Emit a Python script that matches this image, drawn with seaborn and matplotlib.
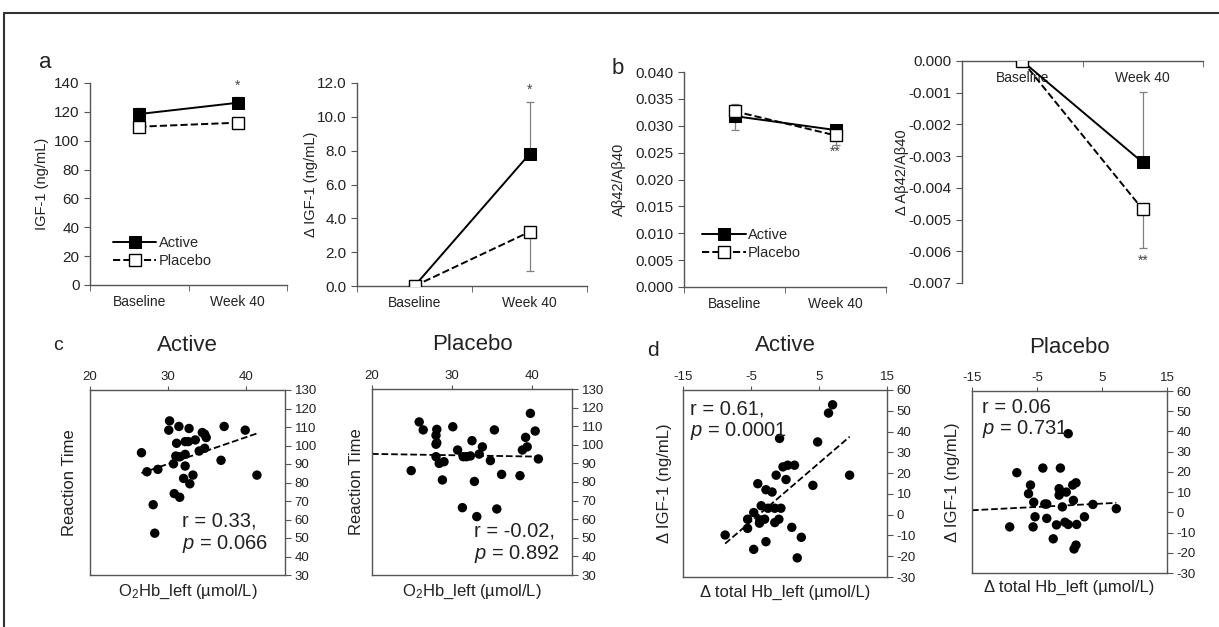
import numpy as np
import pandas as pd
import matplotlib
matplotlib.use("Agg")
import matplotlib.pyplot as plt
from matplotlib.lines import Line2D
import seaborn as sns

# ---- data ----
timepoints = ["Baseline", "Week 40"]

igf_active = [118.5, 126.3]
igf_active_err = [3.9, 4.2]          # upper bars
igf_placebo = [109.7, 112.5]

d_igf_active = [0.0, 7.8]
d_igf_active_err = [0.0, 3.1]        # upper
d_igf_placebo = [0.0, 3.2]
d_igf_placebo_err = [0.0, 2.3]       # lower

ab_active = [0.0318, 0.0292]
ab_active_err_lo = [0.0025, 0.0]
ab_active_err_hi = [0.0, 0.0003]
ab_placebo = [0.0327, 0.0282]
ab_placebo_err_lo = [0.0, 0.0018]
ab_placebo_err_hi = [0.0013, 0.0]

d_ab_active = [0.0, -0.0032]
d_ab_active_err = [0.0, 0.00223]     # upper
d_ab_placebo = [0.0, -0.00468]
d_ab_placebo_err = [0.0, 0.00122]    # lower

# c: O2Hb_left vs reaction time
c_active_x = [26.6, 27.3, 28.7, 28.1, 28.3, 30.2, 30.1, 31.4, 32.7, 31.1, 32.2, 32.6, 33.5,
              34.4, 34.7, 34.9, 31.0, 31.5, 32.2, 30.7, 32.2, 34.0, 34.7, 32.0, 33.2, 32.8,
              30.8, 31.5, 36.8, 37.2, 39.9, 41.4]
c_active_y = [96.1, 85.8, 87.1, 68.0, 52.6, 113.3, 108.3, 110.3, 109.2, 101.2, 102.1, 102.1, 103.0,
              107.0, 106.1, 104.3, 94.3, 93.9, 95.2, 90.1, 88.9, 97.0, 98.5, 82.2, 84.0, 79.3,
              74.0, 72.0, 92.0, 110.3, 108.3, 84.0]
c_placebo_x = [24.9, 25.9, 26.4, 28.1, 28.0, 28.1, 28.0, 28.0, 28.4, 29.0, 28.8, 30.1, 30.7,
               31.4, 31.8, 32.3, 32.5, 33.4, 33.8, 34.8, 32.8, 31.3, 33.1, 35.3, 36.2, 35.6,
               38.5, 38.8, 39.4, 39.2, 39.8, 40.4, 40.8]
c_placebo_y = [86.1, 112.3, 108.0, 108.3, 105.1, 101.1, 100.3, 93.6, 90.0, 90.9, 81.1, 109.7, 97.2,
               93.6, 93.6, 94.0, 102.2, 95.0, 98.9, 91.5, 80.3, 66.2, 61.4, 108.0, 84.1, 65.5,
               83.4, 97.2, 98.9, 104.0, 116.9, 107.4, 92.4]

# d: delta total Hb_left vs delta IGF-1
d_active_x = [-8.8, -5.5, -5.5, -4.6, -4.6, -4.0, -3.5, -3.75, -3.7, -3.0, -2.8, -2.8, -2.5,
              -1.9, -1.5, -1.5, -1.3, -0.9, -0.8, -0.6, -0.3, 0.15, 0.4, 1.4, 1.0, 1.8, 2.4,
              4.1, 4.8, 6.4, 7.0, 9.5]
d_active_y = [-9.8, -2.2, -6.6, 1.0, -16.7, 14.9, 4.3, -4.1, -2.5, -2.2, 12.0, -13.0, 3.1,
              10.9, 3.1, -3.8, 19.0, -2.2, 36.7, 3.1, 23.0, 16.9, 23.8, 23.8, -6.1, -20.8, -10.9,
              14.1, 35.0, 48.9, 52.9, 19.0]
d_placebo_x = [-9.2, -8.1, -6.3, -6.0, -5.5, -5.3, -5.6, -4.1, -3.8, -3.5, -3.5, -2.5, -2.0,
               -1.4, -1.6, -1.4, -1.6, -1.1, -0.5, -0.7, -0.2, -0.2, 0.5, 1.0, 0.6, 1.1, 0.7,
               1.0, 2.3, 3.6, 7.2]
d_placebo_y = [-7.2, 19.6, 9.2, 13.5, 5.0, -2.2, -7.2, 21.9, 4.1, 4.1, -3.0, -13.1, -6.2,
               21.9, 11.7, 9.7, 8.5, 2.7, 10.0, -4.9, -6.0, 38.9, 13.5, 14.6, 5.9, -6.0, -18.1,
               -16.2, -2.2, 3.9, 1.8]

# trend lines as printed in the figure (slope, intercept)
c_active_fit = (1.447, 46.6)
c_placebo_fit = (-0.07, 96.5)
d_active_fit = (2.81, 10.8)
d_placebo_fit = (0.165, 3.5)

# ---- style ----
sns.set_style("ticks")
plt.rcParams["font.family"] = ["Liberation Sans", "DejaVu Sans"]
plt.rcParams["mathtext.fontset"] = "custom"
plt.rcParams["mathtext.rm"] = "Liberation Sans"
plt.rcParams["mathtext.it"] = "Liberation Sans:italic"
plt.rcParams["axes.unicode_minus"] = False
plt.rcParams["axes.edgecolor"] = "#555555"
plt.rcParams["axes.linewidth"] = 1.0
plt.rcParams["xtick.color"] = "#555555"
plt.rcParams["ytick.color"] = "#555555"
plt.rcParams["xtick.labelcolor"] = "#222222"
plt.rcParams["ytick.labelcolor"] = "#222222"
TXT = "#222222"

W, H = 1219, 627
fig = plt.figure(figsize=(W / 100, H / 100), dpi=100)


def px_axes(x0, y0, x1, y1):
    return fig.add_axes([x0 / W, 1 - y1 / H, (x1 - x0) / W, (y1 - y0) / H])


def line_panel(ax, act, plc, act_err, plc_err, ylim, step, fmt, ylabel, ylab_x,
               stars=None, legend_at=None, zero_top=False):
    pos = [0.5, 1.5]
    ax.errorbar(pos, act, yerr=act_err, fmt="none", ecolor="#808080",
                elinewidth=0.9, capsize=3, capthick=0.9, zorder=1)
    ax.errorbar(pos, plc, yerr=plc_err, fmt="none", ecolor="#808080",
                elinewidth=0.9, capsize=3, capthick=0.9, zorder=1)
    sns.lineplot(x=pos, y=act, ax=ax, color="black", lw=1.4, marker="s", markersize=8.5,
                 markerfacecolor="black", markeredgecolor="black", label="Active", zorder=3)
    sns.lineplot(x=pos, y=plc, ax=ax, color="black", lw=1.4, linestyle="--", marker="s",
                 markersize=8.5, markerfacecolor="white", markeredgecolor="black",
                 markeredgewidth=1.0, label="Placebo", zorder=3)
    ax.set_xlim(0, 2)
    ax.set_ylim(*ylim)
    ax.set_yticks(np.arange(ylim[0], ylim[1] + step / 2, step))
    ax.set_yticklabels([fmt.format(v) for v in ax.get_yticks()], fontsize=11)
    ax.set_xticks(pos)
    ax.set_xticklabels(timepoints, fontsize=10, color=TXT)
    ax.set_xticks([0, 1, 2], minor=True)
    ax.tick_params(axis="x", which="major", length=0, pad=7)
    ax.tick_params(axis="x", which="minor", length=4, direction="out")
    ax.tick_params(axis="y", length=4, direction="out")
    sns.despine(ax=ax)
    if zero_top:
        ax.spines["bottom"].set_position(("data", 0))
    ax.set_ylabel(ylabel, fontsize=10.5, color=TXT)
    ax.yaxis.set_label_coords(ylab_x, 0.5)
    if stars:
        for xi, yi, s in stars:
            ax.text(xi, yi, s, ha="center", va="center", fontsize=10, color="#444444")
    if legend_at:
        ax.legend(loc="lower left", bbox_to_anchor=legend_at, frameon=False, fontsize=10.5,
                  handlelength=3.0, handletextpad=0.15, labelspacing=0.25, borderaxespad=0,
                  borderpad=0)
    else:
        ax.get_legend().remove()


def scatter_panel(ax, xs, ys, fit, xlim, xticks, ylim, yticks, xlabel, ylabel, title,
                  r_txt, p_txt, txt_xy, fit_from_edge, ylab_x):
    df = pd.DataFrame({"x": xs, "y": ys})
    sns.scatterplot(data=df, x="x", y="y", ax=ax, color="black", s=46, edgecolor="none",
                    zorder=3)
    slope, icpt = fit
    x0 = xlim[0] if fit_from_edge else df["x"].min()
    fx = np.array([x0, df["x"].max()])
    sns.lineplot(x=fx, y=slope * fx + icpt, ax=ax, color="black", ls="--", lw=1.3, zorder=2)
    ax.set_xlim(*xlim)
    ax.set_ylim(*ylim)
    ax.set_xticks(xticks)
    ax.set_yticks(yticks)
    ax.xaxis.tick_top()
    ax.yaxis.tick_right()
    ax.tick_params(axis="x", labelsize=9.5, length=3, direction="out", pad=2)
    ax.tick_params(axis="y", labelsize=9.5, length=4, direction="out", pad=3)
    for sp in ax.spines.values():
        sp.set_visible(True)
    ax.set_xlabel(xlabel, fontsize=12, color=TXT)
    ax.xaxis.set_label_position("bottom")
    ax.xaxis.set_label_coords(0.5, -0.04)
    ax.set_ylabel(ylabel, fontsize=12, color=TXT)
    ax.yaxis.set_label_position("left")
    ax.yaxis.set_label_coords(ylab_x, 0.5)
    ax.text(0.5, 1.24, title, transform=ax.transAxes, ha="center", va="center",
            fontsize=16, color=TXT)
    tx, ty = txt_xy
    ax.text(tx, ty, r_txt, transform=ax.transAxes, ha="left", va="center",
            fontsize=14.5, color=TXT)
    ax.text(tx, ty - 0.12, p_txt, transform=ax.transAxes, ha="left", va="center",
            fontsize=14.5, color=TXT)


# ---- panel a ----
ax_a1 = px_axes(90, 83, 287, 285)
line_panel(ax_a1, igf_active, igf_placebo, [[0, 0], igf_active_err], [[0, 0], [0, 0]],
           (0, 140), 20, "{:.0f}", "IGF-1 (ng/mL)", -0.208,
           stars=[(1.5, 138, "*")], legend_at=(0.115, 0.085))

ax_a2 = px_axes(357, 83, 587, 286)
line_panel(ax_a2, d_igf_active, d_igf_placebo, [[0, 0], d_igf_active_err],
           [d_igf_placebo_err, [0, 0]], (0, 12), 2, "{:.1f}", "Δ IGF-1 (ng/mL)", -0.17,
           stars=[(1.5, 11.6, "*")])

# ---- panel b ----
ax_b1 = px_axes(684, 72, 886, 287)
line_panel(ax_b1, ab_active, ab_placebo, [ab_active_err_lo, ab_active_err_hi],
           [ab_placebo_err_lo, ab_placebo_err_hi], (0, 0.040), 0.005, "{:.3f}",
           "Aβ42/Aβ40", -0.287, stars=[(1.5, 0.0251, "**")], legend_at=(0.09, 0.125))

ax_b2 = px_axes(962, 61, 1203, 283)
line_panel(ax_b2, d_ab_active, d_ab_placebo, [[0, 0], d_ab_active_err],
           [d_ab_placebo_err, [0, 0]], (-0.007, 0.0), 0.001, "{:.3f}",
           "Δ Aβ42/Aβ40", -0.22, stars=[(1.5, -0.0063, "**")], zero_top=True)

# ---- panel c ----
ax_c1 = px_axes(90, 390, 285, 575)
scatter_panel(ax_c1, c_active_x, c_active_y, c_active_fit, (20, 45), [20, 30, 40], (30, 130),
              np.arange(30, 131, 10), "O$_2$Hb_left (µmol/L)", "Reaction Time", "Active",
              "r = 0.33,", "$\\it{p}$ = 0.066", (0.47, 0.29), False, -0.067)

ax_c2 = px_axes(372, 389, 572, 575)
scatter_panel(ax_c2, c_placebo_x, c_placebo_y, c_placebo_fit, (20, 45), [20, 30, 40],
              (30, 130), np.arange(30, 131, 10), "O$_2$Hb_left (µmol/L)", "Reaction Time",
              "Placebo", "r = -0.02,", "$\\it{p}$ = 0.892", (0.51, 0.235), True, -0.04)

# ---- panel d ----
ax_d1 = px_axes(683, 390, 887, 577)
scatter_panel(ax_d1, d_active_x, d_active_y, d_active_fit, (-15, 15), [-15, -5, 5, 15],
              (-30, 60), np.arange(-30, 61, 10), "Δ total Hb_left (µmol/L)",
              "Δ IGF-1 (ng/mL)", "Active", "r = 0.61,", "$\\it{p}$ = 0.0001",
              (0.035, 0.9), False, -0.054)

ax_d2 = px_axes(972, 391, 1167, 573)
scatter_panel(ax_d2, d_placebo_x, d_placebo_y, d_placebo_fit, (-15, 15), [-15, -5, 5, 15],
              (-30, 60), np.arange(-30, 61, 10), "Δ total Hb_left (µmol/L)",
              "Δ IGF-1 (ng/mL)", "Placebo", "r = 0.06", "$\\it{p}$ = 0.731",
              (0.05, 0.91), True, -0.06)

# panel letters
for lab, x, y, fs in [("a", 45, 62, 16), ("b", 618, 68, 16), ("c", 58, 345, 14), ("d", 653, 350, 15)]:
    fig.text(x / W, 1 - y / H, lab, ha="center", va="center", fontsize=fs, color=TXT)

# outer frame (cropped at right and bottom)
fig.add_artist(Line2D([4 / W, 1], [1 - 13 / H, 1 - 13 / H], transform=fig.transFigure,
                      color="#333333", lw=1.5))
fig.add_artist(Line2D([4 / W, 4 / W], [0, 1 - 13 / H], transform=fig.transFigure,
                      color="#333333", lw=1.5))

fig.savefig("out.png", dpi=100)
